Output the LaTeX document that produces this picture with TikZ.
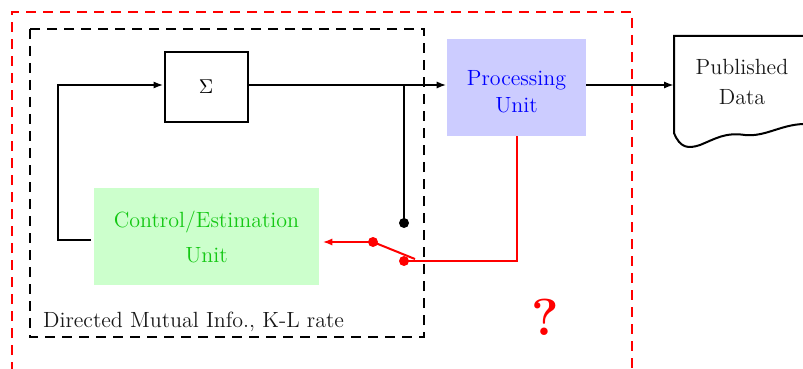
\documentclass[tikz,border=0pt]{standalone}
\usetikzlibrary{arrows.meta}
\definecolor{cegreen}{RGB}{20,200,20}
\begin{document}
\begin{tikzpicture}[x=0.5pt,y=-0.5pt,
  blk/.style={draw=black,line width=1pt,rectangle,inner sep=0pt},
  fillbox/.style={rectangle,inner sep=0pt,align=center},
  conn/.style={line width=1pt},
  arr/.style={line width=1pt,-{Latex[length=5pt,width=3.6pt]}},
  redconn/.style={line width=1pt,draw=red},
  dot/.style={circle,fill,inner sep=0pt,minimum size=5pt},
  bigdash/.style={dash pattern=on 5pt off 3.5pt,line width=1pt},
  lbl/.style={font=\fontsize{11}{13.5}\selectfont}
]
\useasboundingbox (0,0) rectangle (803,369);
\clip (0,0) rectangle (803,369);
% outer red dashed box (open at the bottom, cut by the page)
\draw[bigdash,red] (12,372) -- (12,12) -- (632,12) -- (632,372);
% inner black dashed box
\draw[bigdash,black] (30,29) rectangle (424,337);
% nodes
\node[blk,minimum width=41.5pt,minimum height=35pt] (sigma) at (206,87) {$\Sigma$};
\node[fillbox,fill=blue!20,text=blue,minimum width=69.5pt,minimum height=48.5pt,lbl] (pu) at (516.5,87.5) {\rule{0pt}{12pt}Processing\\Unit};
\node[fillbox,fill=green!20,text=cegreen,minimum width=112.5pt,minimum height=48.5pt,lbl] (ceu) at (206.5,236.5) {Control/Estimation\\[4pt]Unit};
\node[lbl,anchor=west,text=black!90] (dmi) at (36,322) {Directed Mutual Info., K-L rate};
\node[text=red,font=\fontsize{26}{30}\selectfont\bfseries] (q) at (545,317) {?};
% published data document
\draw[line width=1pt,fill=white] (674,36) -- (820,36) -- (820,122) -- (803,124)
  .. controls (780,125) and (765,137) .. (745,135)
  .. controls (725,132) and (715,139) .. (700,145)
  .. controls (688,149) and (680,148) .. (674,133) -- cycle;
\coordinate (pubw) at (674,85);
\node[lbl,align=center,text=black!90] (pubtxt) at (742,82) {Published\\[1.5pt]Data};
% coordinates
\coordinate (fbcorner) at (58,85);
\coordinate (fbstart) at (91,240);
\coordinate (bdot) at (404,223);
\coordinate (tapl) at (352,85);
\coordinate (sw1) at (373,242);
\coordinate (sw2) at (404,261);
\coordinate (swend) at (415,259);
\coordinate (puturn) at (517,261);
% connectors
\draw[arr] (fbstart) -| (fbcorner) -- (sigma.west |- fbcorner);
\draw[arr] (sigma.east |- fbcorner) -- (pu.west |- fbcorner);
\draw[conn] (bdot) |- (tapl);
\node[dot,black] (bd) at (bdot) {};
\draw[arr] (pu.east |- fbcorner) -- (pubw);
% red switch
\draw[redconn] (pu.south -| puturn) -- (puturn) -- (sw2);
\draw[redconn] (sw1) -- (swend);
\draw[redconn,-{Latex[length=5pt,width=3.6pt]}] (sw1) -- ([xshift=1.5pt]ceu.east |- sw1);
\node[dot,red] (d1) at (sw1) {};
\node[dot,red] (d2) at (sw2) {};
\end{tikzpicture}
\end{document}
